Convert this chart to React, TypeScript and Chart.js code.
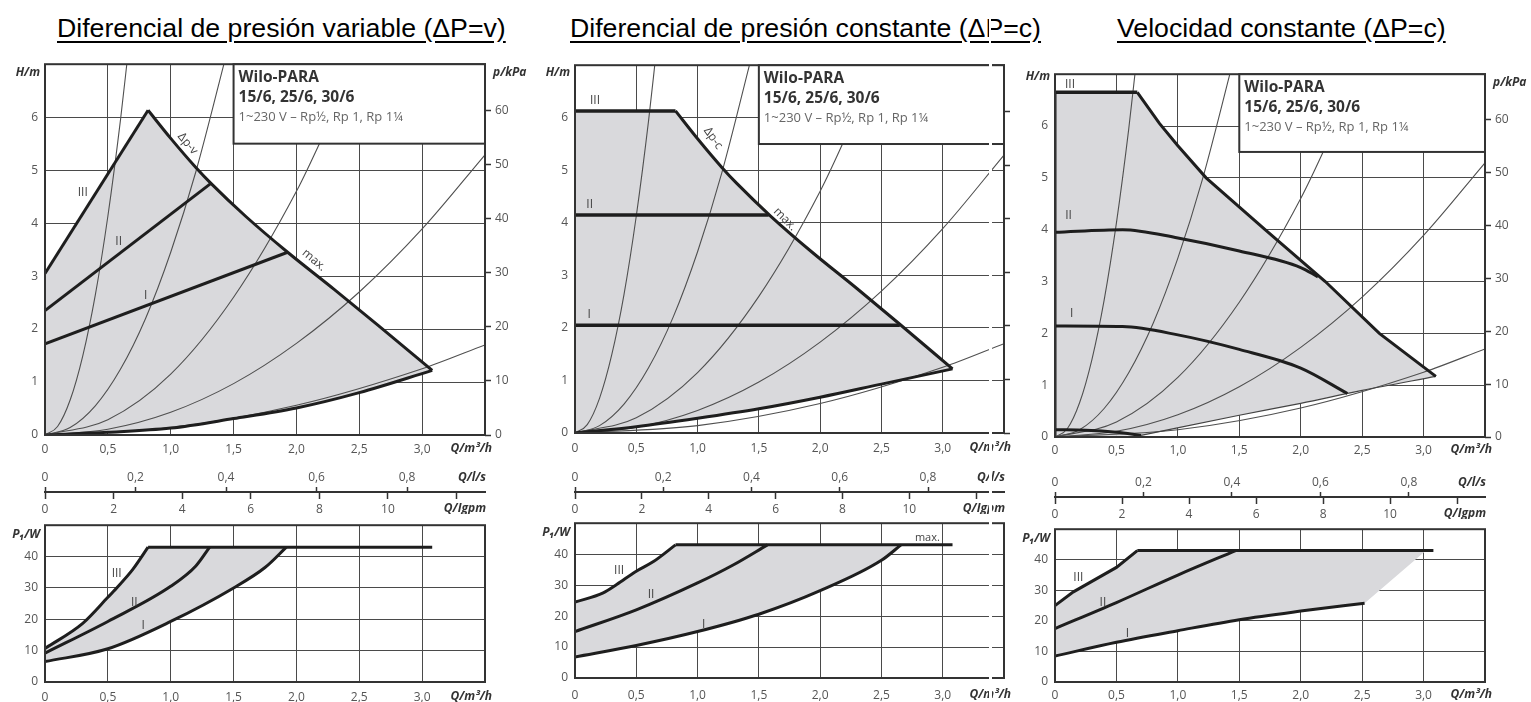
import React, { useEffect, useRef } from 'react';
import { Chart, registerables } from 'chart.js';

Chart.register(...registerables);

type Pt = [number, number];

// ---------------- DATA ----------------
const Q_MAX = 3.5; // m³/h
const H_MAX = 7; // m
const P_MAX = 50; // W
const Q_STEP = 0.5;
const H_STEP = 1;
const P_STEP = 10;
const KPA_STEP = 10;
const LS_STEP = 0.2;
const GPM_STEP = 2;
const KPA_PER_M = 9.80665;
const M3H_PER_LS = 3.6;
const M3H_PER_IGPM = 0.272765;

const TITLES = [
  'Diferencial de presión variable (ΔP=v)',
  'Diferencial de presión constante (ΔP=c)',
  'Velocidad constante (ΔP=c)',
];
const BOX_LINES = ['Wilo-PARA', '15/6, 25/6, 30/6', '1~230 V – Rp½, Rp 1, Rp 1¼'];

// thin system curves (Q m³/h, H m) – same in the three panels
const sysA: Pt[] = [[0, 0], [0.1, 0.16], [0.2, 0.66], [0.3, 1.49], [0.4, 2.64], [0.5, 4.13], [0.6, 5.94], [0.66, 7.2]];
const sysB: Pt[] = [[0, 0], [0.2, 0.14], [0.4, 0.55], [0.6, 1.24], [0.8, 2.2], [1.0, 3.45], [1.2, 4.97], [1.45, 7.25]];
const sysC: Pt[] = [[0, 0], [0.5, 0.29], [1.0, 1.15], [1.5, 2.6], [2.0, 4.6], [2.3, 6.1]];
const sysD: Pt[] = [[0, 0], [0.5, 0.11], [1.0, 0.43], [1.5, 0.97], [2.0, 1.73], [2.5, 2.7], [3.0, 3.89], [3.5, 5.29]];
const sysE: Pt[] = [[0, 0], [1.0, 0.14], [2.0, 0.56], [3.0, 1.25], [3.5, 1.7]];
const SYSTEM_CURVES = [sysA, sysB, sysC, sysD, sysE];

// max. curve (ΔP-v / ΔP-c panels)
const maxCurve: Pt[] = [[0.82, 6.13], [1.0, 5.6], [1.2, 5.05], [1.32, 4.75], [1.6, 4.12], [1.93, 3.45], [2.3, 2.75], [2.65, 2.07], [3.08, 1.22]];

// Panel 1 – Δp-v (H)
const p1III: Pt[] = [[0, 3.05], [0.82, 6.13]];
const p1II: Pt[] = [[0, 2.35], [1.32, 4.75]];
const p1I: Pt[] = [[0, 1.72], [1.93, 3.45]];
const p1Min: Pt[] = [[0, 0], [0.5, 0.05], [1.0, 0.13], [1.5, 0.31], [2.0, 0.51], [2.5, 0.8], [3.08, 1.22]];
// Panel 1 – P1
const l1Max: Pt[] = [[0.82, 43], [3.08, 43]];
const l1III: Pt[] = [[0, 10.7], [0.3, 18.7], [0.5, 27], [0.57, 30], [0.7, 36], [0.82, 43]];
const l1II: Pt[] = [[0, 9.2], [0.5, 19.3], [1.0, 30.5], [1.2, 37], [1.31, 43]];
const l1I: Pt[] = [[0, 6.5], [0.5, 10.6], [1.0, 19.3], [1.5, 30], [1.75, 36.5], [1.92, 43]];

// Panel 2 – Δp-c (H)
const p2III: Pt[] = [[0, 6.13], [0.82, 6.13]];
const p2II: Pt[] = [[0, 4.15], [1.58, 4.15]];
const p2I: Pt[] = [[0, 2.05], [2.65, 2.05]];
const p2Min: Pt[] = [[0, 0], [0.5, 0.12], [1.0, 0.28], [1.5, 0.46], [2.0, 0.68], [2.5, 0.93], [3.08, 1.22]];
// Panel 2 – P1
const l2Max: Pt[] = [[0.82, 43], [3.08, 43]];
const l2III: Pt[] = [[0, 24.5], [0.23, 27.5], [0.34, 30.2], [0.5, 34.5], [0.64, 37.6], [0.82, 43]];
const l2II: Pt[] = [[0, 15], [0.5, 22], [1.0, 30.7], [1.29, 36.5], [1.57, 43]];
const l2I: Pt[] = [[0, 6.8], [0.5, 10.5], [1.0, 15], [1.5, 20.6], [2.0, 28.2], [2.5, 38], [2.66, 43]];

// Panel 3 – constant speed (H)
const p3Edge: Pt[] = [[0, 0], [0, 6.65]];
const p3III: Pt[] = [[0, 6.65], [0.67, 6.65]];
const p3Max: Pt[] = [[0.67, 6.65], [0.85, 6.05], [1.0, 5.62], [1.23, 5.0], [1.71, 4.0], [2.2, 3.0], [2.64, 2.0], [3.1, 1.17]];
const p3II: Pt[] = [[0, 3.95], [0.55, 4.0], [1.0, 3.84], [1.5, 3.59], [2.0, 3.27], [2.14, 3.09]];
const p3I: Pt[] = [[0, 2.14], [0.55, 2.13], [1.0, 1.97], [1.5, 1.69], [2.0, 1.33], [2.38, 0.84]];
const p3Zero: Pt[] = [[0, 0.14], [0.25, 0.13], [0.5, 0.09], [0.7, 0.03]];
const p3Min: Pt[] = [[0.7, 0.03], [1.5, 0.42], [2.0, 0.65], [2.5, 0.9], [3.1, 1.17]];
// Panel 3 – P1
const l3Max: Pt[] = [[0.67, 43], [3.08, 43]];
const l3III: Pt[] = [[0, 25], [0.15, 29.5], [0.5, 37.5], [0.67, 43]];
const l3II: Pt[] = [[0, 17.5], [0.5, 26], [1.0, 35], [1.47, 43]];
const l3I: Pt[] = [[0, 8.5], [0.5, 13], [1.0, 16.8], [1.5, 20.4], [2.0, 23.2], [2.52, 25.8]];
const l3FillCorner: Pt[] = [[3.02, 43]];

// ---------------- STYLE / LAYOUT ----------------
const FILL = '#d9d9dc';
const INK = '#1e1e1e';
const GRID = '#4a4a4a';
const TICK_COLOR = '#555';
const TICK_FONT = { family: '"Open Sans", sans-serif', size: 12 };
const LABEL_FONT = 'italic bold 12px "Open Sans", sans-serif';
const PAD_T = 10;
const UX_H = 22;
const MID_TOP_H = 22;
const MID_BOT_H = 22;
const BOX_Q0 = 1.5;
const BOX_H0 = 5.5;

interface Layout {
  left: number; plotLeft: number; plotRight: number; rightW: number;
  upperTop: number; upperBottom: number; uxPad: number; hmDy: number;
  midLine: number; lowerTop: number; lowerBottom: number; lxPad: number;
}
interface Ann { x: number; y: number; text: string; rot?: number; size?: number }
interface Line { pts: Pt[]; smooth: boolean; w?: number; color?: string }
interface PanelDef {
  L: Layout; kpaLabels: boolean;
  upperFill: Pt[]; upperLines: Line[]; upperAnns: Ann[];
  lowerFill: Pt[]; lowerLines: Line[]; lowerAnns: Ann[];
}

const rev = (a: Pt[]) => [...a].reverse();

const PANELS: PanelDef[] = [
  {
    L: { left: 0, plotLeft: 45, plotRight: 485, rightW: 55, upperTop: 60, upperBottom: 435, uxPad: 7, hmDy: 12, midLine: 491, lowerTop: 521, lowerBottom: 682, lxPad: 8 },
    kpaLabels: true,
    upperFill: [...p1III, ...maxCurve.slice(1), ...rev(p1Min)],
    upperLines: [
      { pts: p1III, smooth: false }, { pts: p1II, smooth: false }, { pts: p1I, smooth: false },
      { pts: maxCurve, smooth: true }, { pts: p1Min, smooth: true },
    ],
    upperAnns: [
      { x: 0.3, y: 4.57, text: 'III' }, { x: 0.586, y: 3.65, text: 'II' }, { x: 0.8, y: 2.63, text: 'I' },
      { x: 1.135, y: 5.5, text: 'Δp-v', rot: 50 }, { x: 2.14, y: 3.3, text: 'max.', rot: 40 },
    ],
    lowerFill: [...l1III, [1.92, 43], ...rev(l1I)],
    lowerLines: [
      { pts: l1Max, smooth: false }, { pts: l1III, smooth: true }, { pts: l1II, smooth: true }, { pts: l1I, smooth: true },
    ],
    lowerAnns: [{ x: 0.57, y: 34.5, text: 'III' }, { x: 0.71, y: 25.3, text: 'II' }, { x: 0.78, y: 18, text: 'I' }],
  },
  {
    L: { left: 530, plotLeft: 575, plotRight: 1004, rightW: 10, upperTop: 61, upperBottom: 433, uxPad: 8, hmDy: 11, midLine: 491, lowerTop: 519, lowerBottom: 678, lxPad: 10 },
    kpaLabels: false,
    upperFill: [[0, 0], ...p2III, ...maxCurve.slice(1), ...rev(p2Min)],
    upperLines: [
      { pts: p2III, smooth: false, w: 3.5 }, { pts: p2II, smooth: false, w: 3.5 }, { pts: p2I, smooth: false, w: 3.5 },
      { pts: maxCurve, smooth: true }, { pts: p2Min, smooth: true },
    ],
    upperAnns: [
      { x: 0.163, y: 6.32, text: 'III' }, { x: 0.12, y: 4.34, text: 'II' }, { x: 0.115, y: 2.25, text: 'I' },
      { x: 1.128, y: 5.61, text: 'Δp-c', rot: 55 }, { x: 1.713, y: 4.07, text: 'max.', rot: 45 },
    ],
    lowerFill: [...l2III, [2.66, 43], ...rev(l2I)],
    lowerLines: [
      { pts: l2Max, smooth: false }, { pts: l2III, smooth: true }, { pts: l2II, smooth: true }, { pts: l2I, smooth: true },
    ],
    lowerAnns: [
      { x: 0.36, y: 34.7, text: 'III' }, { x: 0.62, y: 26.8, text: 'II' }, { x: 1.05, y: 17.4, text: 'I' },
      { x: 2.875, y: 45.3, text: 'max.', size: 11 },
    ],
  },
  {
    L: { left: 1010, plotLeft: 1055, plotRight: 1485, rightW: 46, upperTop: 70, upperBottom: 437, uxPad: 6, hmDy: 6, midLine: 496, lowerTop: 525, lowerBottom: 682, lxPad: 6 },
    kpaLabels: true,
    upperFill: [[0, 0], ...p3III, ...p3Max.slice(1), ...rev(p3Min)],
    upperLines: [
      { pts: p3Edge, smooth: false }, { pts: p3III, smooth: false, w: 3.5 }, { pts: p3Max, smooth: false },
      { pts: p3II, smooth: true }, { pts: p3I, smooth: true }, { pts: p3Zero, smooth: true },
      { pts: p3Min, smooth: true, w: 1.2, color: '#444' },
    ],
    upperAnns: [{ x: 0.122, y: 6.8, text: 'III' }, { x: 0.11, y: 4.28, text: 'II' }, { x: 0.135, y: 2.39, text: 'I' }],
    lowerFill: [...l3III, ...l3FillCorner, ...rev(l3I)],
    lowerLines: [
      { pts: l3Max, smooth: false }, { pts: l3III, smooth: false }, { pts: l3II, smooth: true }, { pts: l3I, smooth: true },
    ],
    lowerAnns: [{ x: 0.19, y: 34.3, text: 'III' }, { x: 0.39, y: 25.9, text: 'II' }, { x: 0.59, y: 15.7, text: 'I' }],
  },
];

// ---------------- HELPERS ----------------
const toXY = (pts: Pt[]) => pts.map(([x, y]) => ({ x, y }));
const near = (a: number, b: number) => Math.abs(a - b) < 1e-6;
const fmtComma = (v: number) => (near(v, 0) ? '0' : Number(v).toFixed(1).replace('.', ','));

// Chart.js paints the LAST dataset first, so: thick lines first, fill last.
function fillDs(pts: Pt[]) {
  return {
    data: toXY(pts), showLine: true, borderWidth: 0, borderColor: 'rgba(0,0,0,0)',
    backgroundColor: FILL, fill: 'shape', pointRadius: 0, tension: 0,
  };
}
function thinDs(pts: Pt[]) {
  return {
    data: toXY(pts), borderColor: '#505050', borderWidth: 1.1, pointRadius: 0, fill: false,
    cubicInterpolationMode: 'monotone',
  };
}
function lineDs(l: Line) {
  return {
    data: toXY(l.pts), borderColor: l.color ?? INK, borderWidth: l.w ?? 3, pointRadius: 0, fill: false,
    cubicInterpolationMode: l.smooth ? 'monotone' : 'default', tension: 0,
  };
}

interface Edge { text: string; fx: 'left' | 'right'; dx: number; fy: 'top' | 'bottom'; dy: number; align: CanvasTextAlign; base: CanvasTextBaseline }
interface DecorOpts { border?: boolean; box?: boolean; anns?: Ann[]; edges?: Edge[]; xId?: string; yId?: string }

function decor(o: DecorOpts) {
  return {
    id: 'decor',
    afterDraw(chart: any) {
      const ctx: CanvasRenderingContext2D = chart.ctx;
      const a = chart.chartArea;
      const xs = chart.scales[o.xId ?? 'x'];
      const ys = chart.scales[o.yId ?? 'y'];
      ctx.save();
      if (o.border) {
        ctx.lineWidth = 2;
        ctx.strokeStyle = '#333';
        ctx.strokeRect(a.left, a.top, a.right - a.left, a.bottom - a.top);
      }
      if (o.box) {
        const bx = xs.getPixelForValue(BOX_Q0);
        const by = ys.getPixelForValue(BOX_H0);
        ctx.fillStyle = '#fff';
        ctx.fillRect(bx, a.top, a.right - bx, by - a.top);
        ctx.lineWidth = 2;
        ctx.strokeStyle = '#333';
        ctx.strokeRect(bx, a.top, a.right - bx, by - a.top);
        ctx.textAlign = 'left';
        ctx.textBaseline = 'alphabetic';
        ctx.fillStyle = '#333';
        ctx.font = 'bold 15.5px "Open Sans", sans-serif';
        ctx.fillText(BOX_LINES[0], bx + 5, a.top + 18);
        ctx.fillText(BOX_LINES[1], bx + 5, a.top + 38);
        ctx.font = '13px "Open Sans", sans-serif';
        ctx.fillStyle = '#666';
        ctx.fillText(BOX_LINES[2], bx + 5, a.top + 57);
      }
      (o.anns ?? []).forEach((n) => {
        const px = xs.getPixelForValue(n.x);
        const py = ys.getPixelForValue(n.y);
        ctx.save();
        ctx.translate(px, py);
        if (n.rot) ctx.rotate((n.rot * Math.PI) / 180);
        ctx.font = `${n.size ?? 12}px "Open Sans", sans-serif`;
        ctx.fillStyle = '#444';
        ctx.textAlign = 'center';
        ctx.textBaseline = 'middle';
        ctx.fillText(n.text, 0, 0);
        ctx.restore();
      });
      (o.edges ?? []).forEach((e) => {
        const x = (e.fx === 'left' ? a.left : a.right) + e.dx;
        const y = (e.fy === 'top' ? a.top : a.bottom) + e.dy;
        ctx.font = LABEL_FONT;
        ctx.fillStyle = '#333';
        ctx.textAlign = e.align;
        ctx.textBaseline = e.base;
        ctx.fillText(e.text, x, y);
      });
      ctx.restore();
    },
  };
}

const baseOptions = {
  responsive: false,
  animation: false,
  events: [],
  plugins: { legend: { display: false }, tooltip: { enabled: false } },
};

function upperConfig(P: PanelDef): any {
  const L = P.L;
  const leftW = L.plotLeft - L.left;
  return {
    type: 'line',
    data: {
      datasets: [...P.upperLines.map(lineDs), ...SYSTEM_CURVES.map(thinDs), fillDs(P.upperFill)],
    },
    options: {
      ...baseOptions,
      layout: { padding: { top: PAD_T, left: 0, right: 0, bottom: 0 } },
      scales: {
        x: {
          type: 'linear', position: 'bottom', min: 0, max: Q_MAX, z: 1,
          ticks: {
            stepSize: Q_STEP, autoSkip: false, maxRotation: 0, padding: L.uxPad, font: TICK_FONT, color: TICK_COLOR,
            callback: (v: number) => (near(v, Q_MAX) ? '' : fmtComma(v)),
          },
          grid: { color: GRID, lineWidth: 1, drawTicks: false },
          border: { display: false },
          afterFit: (s: any) => { s.height = UX_H; },
        },
        y: {
          type: 'linear', position: 'left', min: 0, max: H_MAX, z: 1,
          ticks: {
            stepSize: H_STEP, padding: 7, font: TICK_FONT, color: TICK_COLOR,
            callback: (v: number) => (near(v, H_MAX) ? '' : String(v)),
          },
          grid: { color: GRID, lineWidth: 1, drawTicks: false },
          border: { display: false },
          afterFit: (s: any) => { s.width = leftW; },
        },
        kpa: {
          type: 'linear', position: 'right', min: 0, max: H_MAX * KPA_PER_M,
          ticks: {
            stepSize: KPA_STEP, includeBounds: false, padding: 4, font: TICK_FONT, color: TICK_COLOR,
            callback: (v: number) => (P.kpaLabels ? String(Math.round(v)) : ''),
          },
          grid: { drawOnChartArea: false, drawTicks: true, tickLength: 6, tickColor: '#333', tickWidth: 1.5 },
          border: { display: false },
          afterFit: (s: any) => { s.width = L.rightW; },
        },
      },
    },
    plugins: [
      decor({
        border: true, box: true, anns: P.upperAnns,
        edges: [
          { text: 'H/m', fx: 'left', dx: -5, fy: 'top', dy: L.hmDy, align: 'right', base: 'alphabetic' },
          ...(P.kpaLabels ? [{ text: 'p/kPa', fx: 'right' as const, dx: 8, fy: 'top' as const, dy: 12, align: 'left' as CanvasTextAlign, base: 'alphabetic' as CanvasTextBaseline }] : []),
          { text: 'Q/m³/h', fx: 'right', dx: 7, fy: 'bottom', dy: L.uxPad + 7, align: 'right', base: 'middle' },
        ],
      }),
    ],
  };
}

function midConfig(P: PanelDef): any {
  const L = P.L;
  const leftW = L.plotLeft - L.left;
  return {
    type: 'line',
    data: { datasets: [] },
    options: {
      ...baseOptions,
      layout: { padding: { top: 0, bottom: 0, left: leftW, right: L.rightW } },
      scales: {
        ls: {
          axis: 'x', type: 'linear', position: 'top', min: 0, max: Q_MAX / M3H_PER_LS,
          ticks: { stepSize: LS_STEP, includeBounds: false, autoSkip: false, maxRotation: 0, padding: 2, font: TICK_FONT, color: TICK_COLOR, callback: (v: number) => fmtComma(v) },
          grid: { drawOnChartArea: false, drawTicks: true, tickLength: 4, tickColor: '#333', tickWidth: 1.5 },
          border: { display: false },
          afterFit: (s: any) => { s.height = MID_TOP_H; },
        },
        gpm: {
          axis: 'x', type: 'linear', position: 'bottom', min: 0, max: Q_MAX / M3H_PER_IGPM,
          ticks: { stepSize: GPM_STEP, includeBounds: false, autoSkip: false, maxRotation: 0, padding: 3, font: TICK_FONT, color: TICK_COLOR, callback: (v: number) => (v > 11 ? '' : String(Math.round(v))) },
          grid: { drawOnChartArea: false, drawTicks: true, tickLength: 7, tickColor: '#333', tickWidth: 1.5 },
          border: { display: true, color: '#333', width: 2 },
          afterFit: (s: any) => { s.height = MID_BOT_H; },
        },
        y: { display: false, min: 0, max: 1 },
      },
    },
    plugins: [
      decor({
        xId: 'gpm',
        edges: [
          { text: 'Q/l/s', fx: 'right', dx: 1, fy: 'top', dy: -13, align: 'right', base: 'middle' },
          { text: 'Q/Igpm', fx: 'right', dx: 1, fy: 'bottom', dy: 17, align: 'right', base: 'middle' },
        ],
      }),
    ],
  };
}

function lowerConfig(P: PanelDef): any {
  const L = P.L;
  const leftW = L.plotLeft - L.left;
  return {
    type: 'line',
    data: { datasets: [...P.lowerLines.map(lineDs), fillDs(P.lowerFill)] },
    options: {
      ...baseOptions,
      layout: { padding: { top: PAD_T, left: 0, right: L.rightW, bottom: 0 } },
      scales: {
        x: {
          type: 'linear', position: 'bottom', min: 0, max: Q_MAX, z: 1,
          ticks: {
            stepSize: Q_STEP, autoSkip: false, maxRotation: 0, padding: L.lxPad, font: TICK_FONT, color: TICK_COLOR,
            callback: (v: number) => (near(v, Q_MAX) ? '' : fmtComma(v)),
          },
          grid: { color: GRID, lineWidth: 1, drawTicks: false },
          border: { display: false },
          afterFit: (s: any) => { s.height = 702 - L.lowerBottom; },
        },
        y: {
          type: 'linear', position: 'left', min: 0, max: P_MAX, z: 1,
          ticks: {
            stepSize: P_STEP, padding: 7, font: TICK_FONT, color: TICK_COLOR,
            callback: (v: number) => (near(v, P_MAX) ? '' : String(v)),
          },
          grid: { color: GRID, lineWidth: 1, drawTicks: false },
          border: { display: false },
          afterFit: (s: any) => { s.width = leftW; },
        },
      },
    },
    plugins: [
      decor({
        border: true, anns: P.lowerAnns,
        edges: [
          { text: 'P₁/W', fx: 'left', dx: -5, fy: 'top', dy: 13, align: 'right', base: 'alphabetic' },
          { text: 'Q/m³/h', fx: 'right', dx: 7, fy: 'bottom', dy: L.lxPad + 7, align: 'right', base: 'middle' },
        ],
      }),
    ],
  };
}

function geom(L: Layout) {
  const width = L.plotRight - L.left + L.rightW;
  return {
    upper: { left: L.left, top: L.upperTop - PAD_T, width, height: L.upperBottom - L.upperTop + PAD_T + UX_H },
    mid: { left: L.left, top: L.midLine - MID_TOP_H, width, height: MID_TOP_H + 1 + MID_BOT_H },
    lower: { left: L.left, top: L.lowerTop - PAD_T, width, height: 702 - (L.lowerTop - PAD_T) },
  };
}

const TITLE_LEFT = [57, 570, 1117];

export default function App() {
  const refs = useRef<(HTMLCanvasElement | null)[]>([]);

  useEffect(() => {
    const charts: Chart[] = [];
    PANELS.forEach((p, i) => {
      const cfgs = [upperConfig(p), midConfig(p), lowerConfig(p)];
      cfgs.forEach((cfg, j) => {
        const c = refs.current[i * 3 + j];
        if (c) charts.push(new Chart(c, cfg));
      });
    });
    return () => charts.forEach((c) => c.destroy());
  }, []);

  return (
    <div style={{ position: 'absolute', left: 0, top: 0, width: 1531, height: 702, overflow: 'hidden', background: '#fff' }}>
      {TITLES.map((t, i) => (
        <div
          key={t}
          style={{
            position: 'absolute', left: TITLE_LEFT[i], top: 15, font: '26.7px "Liberation Sans", Arial, sans-serif',
            lineHeight: '26px', textDecoration: 'underline', textUnderlineOffset: 4, whiteSpace: 'nowrap', color: '#000',
          }}
        >
          {t}
        </div>
      ))}
      {PANELS.map((p, i) => {
        const g = geom(p.L);
        return [g.upper, g.mid, g.lower].map((r, j) => (
          <canvas
            key={`${i}-${j}`}
            ref={(el) => { refs.current[i * 3 + j] = el; }}
            width={r.width}
            height={r.height}
            style={{ position: 'absolute', left: r.left, top: r.top, width: r.width, height: r.height }}
          />
        ));
      })}
      <div style={{ position: 'absolute', left: 989, top: 12, width: 2, height: 34, background: '#fff' }} />
      <div style={{ position: 'absolute', left: 989, top: 52, width: 3, height: 650, background: '#fff' }} />
    </div>
  );
}
